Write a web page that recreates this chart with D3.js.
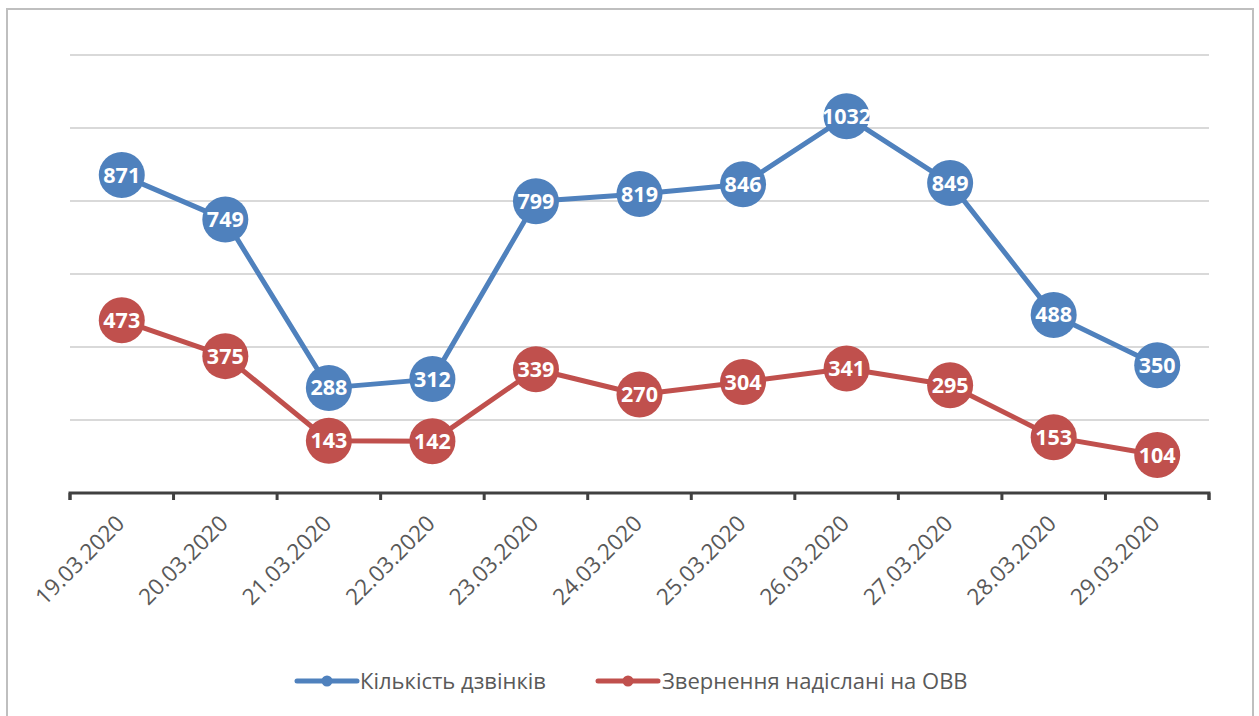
<!DOCTYPE html>
<html>
<head>
<meta charset="utf-8">
<script src="https://cdn.jsdelivr.net/npm/d3@7"></script>
<style>
  html, body { margin: 0; padding: 0; background: #fff; }
  svg { display: block; }
</style>
</head>
<body>
<svg id="chart" width="1259" height="716"></svg>
<script>
const categories = ["19.03.2020","20.03.2020","21.03.2020","22.03.2020","23.03.2020","24.03.2020","25.03.2020","26.03.2020","27.03.2020","28.03.2020","29.03.2020"];
const calls = [871, 749, 288, 312, 799, 819, 846, 1032, 849, 488, 350];
const referrals = [473, 375, 143, 142, 339, 270, 304, 341, 295, 153, 104];
const seriesNames = ["Кількість дзвінків", "Звернення надіслані на ОВВ"];
const seriesColors = ["#4f81bd", "#c0504d"];
const yTicks = [200, 400, 600, 800, 1000, 1200];

(function () {
const svg = d3.select("#chart");
const pLeft = 70, pRight = 1209, pTop = 55, pBottom = 493;

// outer border
svg.append("rect").attr("x", 7).attr("y", 9).attr("width", 1246).attr("height", 720)
  .attr("fill", "none").attr("stroke", "#bfbfbf").attr("stroke-width", 2);

const x = d3.scaleBand().domain(categories).range([pLeft, pRight]);
const y = d3.scaleLinear().domain([0, 1200]).range([pBottom, pTop]);

// gridlines
svg.append("g").selectAll("line").data(yTicks).join("line")
  .attr("x1", pLeft).attr("x2", pRight)
  .attr("y1", d => y(d)).attr("y2", d => y(d))
  .attr("stroke", "#d9d9d9").attr("stroke-width", 2);

// x axis
const xAxis = d3.axisBottom(x).tickSize(0).tickFormat("");
const axG = svg.append("g").attr("transform", `translate(0,${pBottom})`).call(xAxis);
axG.select(".domain").attr("stroke", "#404040").attr("stroke-width", 3)
  .attr("d", `M${pLeft},7V0H${pRight}V7`);
axG.selectAll(".tick").remove();
// boundary ticks
const bounds = categories.map(c => x(c)).concat([pRight]);
svg.append("g").selectAll("line").data(bounds).join("line")
  .attr("x1", d => d).attr("x2", d => d)
  .attr("y1", pBottom).attr("y2", pBottom + 7)
  .attr("stroke", "#404040").attr("stroke-width", 3);

// x labels
svg.append("g").selectAll("text").data(categories).join("text")
  .attr("transform", d => `translate(${x(d) + x.bandwidth()/2 + 4},${pBottom + 32}) rotate(-45)`)
  .attr("text-anchor", "end")
  .attr("font-family", "Open Sans, sans-serif")
  .attr("font-size", 22.5)
  .attr("fill", "#595959")
  .text(d => d);

const cx = d => x(d) + x.bandwidth()/2;
const seriesList = [calls, referrals];

seriesList.forEach((vals, si) => {
  const data = categories.map((c, i) => ({c, v: vals[i]}));
  const line = d3.line().x(d => cx(d.c)).y(d => y(d.v));
  svg.append("path").datum(data).attr("d", line)
    .attr("fill", "none").attr("stroke", seriesColors[si]).attr("stroke-width", 5)
    .attr("stroke-linejoin", "round");
  const g = svg.append("g");
  g.selectAll("circle").data(data).join("circle")
    .attr("cx", d => cx(d.c)).attr("cy", d => y(d.v)).attr("r", 23)
    .attr("fill", seriesColors[si]);
  g.selectAll("text").data(data).join("text")
    .attr("x", d => cx(d.c)).attr("y", d => y(d.v) + 7.5)
    .attr("text-anchor", "middle")
    .attr("font-family", "Open Sans, sans-serif")
    .attr("font-weight", "bold")
    .attr("font-size", 21.5)
    .attr("fill", "#ffffff")
    .text(d => d.v);
});

// legend
const legendItems = [{x1: 297, x2: 357, tx: 360}, {x1: 598, x2: 658, tx: 662}];
legendItems.forEach((li, i) => {
  const ly = 681;
  svg.append("line").attr("x1", li.x1).attr("x2", li.x2).attr("y1", ly).attr("y2", ly)
    .attr("stroke", seriesColors[i]).attr("stroke-width", 5).attr("stroke-linecap", "round");
  svg.append("circle").attr("cx", (li.x1 + li.x2)/2).attr("cy", ly).attr("r", 5.5)
    .attr("fill", seriesColors[i]);
  svg.append("text").attr("x", li.tx).attr("y", ly + 8)
    .attr("font-family", "Open Sans, sans-serif").attr("font-size", 22)
    .attr("fill", "#595959").text(seriesNames[i]);
});
})();
</script>
</body>
</html>
